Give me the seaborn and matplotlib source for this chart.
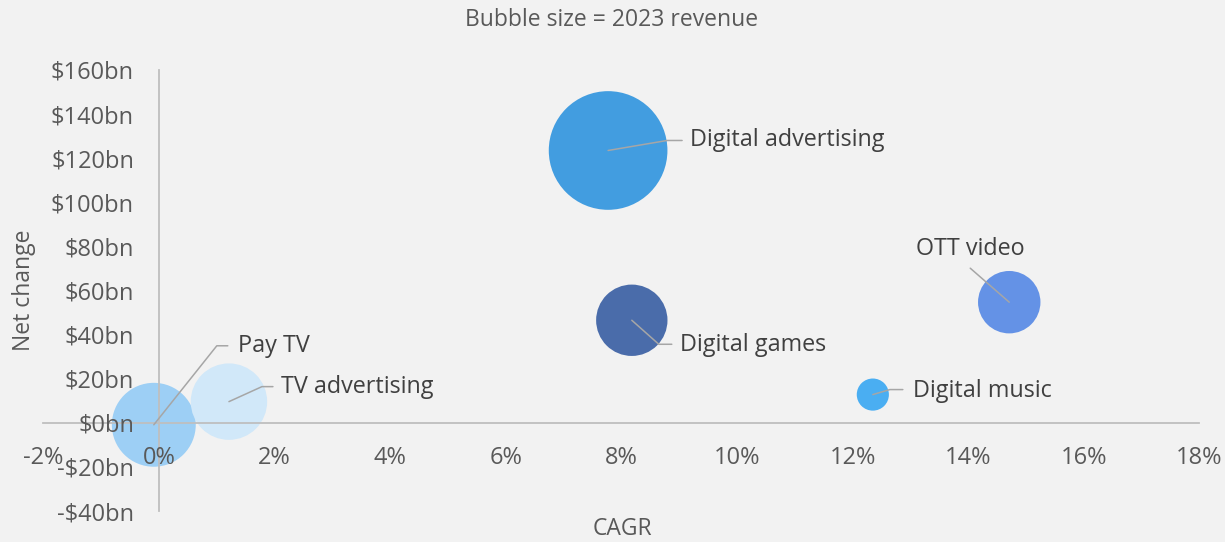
import numpy as np
import pandas as pd
import matplotlib.pyplot as plt
import seaborn as sns

# bubble chart: CAGR vs net change, bubble area = 2023 revenue
segments = ["Pay TV", "TV advertising", "Digital advertising",
            "Digital games", "OTT video", "Digital music"]
cagr = [-0.09, 1.21, 7.77, 8.18, 14.71, 12.35]          # %
net_change = [-0.9, 9.6, 123.5, 46.5, 54.7, 12.8]        # $bn
revenue = [300, 249, 600, 217, 166, 44]                  # $bn, 2023
colors = ["#9dcff5", "#d1e8f9", "#429de0", "#4a6caa", "#6492e6", "#4aaef2"]

x_ticks = [-2, 0, 2, 4, 6, 8, 10, 12, 14, 16, 18]
y_ticks = [-40, -20, 0, 20, 40, 60, 80, 100, 120, 140, 160]

df = pd.DataFrame({"segment": segments, "cagr": cagr,
                   "net": net_change, "revenue": revenue})

sns.set_theme(style="white", rc={"figure.facecolor": "#f2f2f2",
                                 "axes.facecolor": "#f2f2f2"})
plt.rcParams["font.family"] = ["Open Sans", "DejaVu Sans"]

fig = plt.figure(figsize=(12.25, 5.42), dpi=100)
W, H = 1225, 542
ax = fig.add_axes([43.4 / W, 31 / H, 1156 / W, 441 / H])

sns.scatterplot(data=df, x="cagr", y="net", hue="segment", palette=colors,
                size="revenue", sizes=(0, 7300), size_norm=(0, 600),
                linewidth=0, alpha=1, legend=False, ax=ax, zorder=1)

ax.set_axisbelow(False)  # tick labels and axis lines sit on top of bubbles
ax.set_xlim(-2, 18)
ax.set_ylim(-40, 160)
ax.set_xticks(x_ticks)
ax.set_xticklabels([f"{v}%" for v in x_ticks])
ax.set_yticks(y_ticks)
ax.set_yticklabels([f"${v}bn" if v >= 0 else f"-${-v}bn" for v in y_ticks])
ax.set_xlabel("")
ax.set_ylabel("")

for side in ["top", "right"]:
    ax.spines[side].set_visible(False)
ax.spines["left"].set_position(("data", 0))
ax.spines["bottom"].set_position(("data", 0))
for side in ["left", "bottom"]:
    ax.spines[side].set_color("#bfbfbf")
    ax.spines[side].set_linewidth(1.3)
    ax.spines[side].set_zorder(2.5)
ax.tick_params(axis="x", length=0, pad=17, labelsize=17, labelcolor="#595959")
ax.tick_params(axis="y", length=0, pad=18, labelsize=17, labelcolor="#595959")

# leader lines: pixel offsets from the bubble centre (elbow, end, text)
leaders = {
    "Pay TV": ([(63, 79), (74, 79)], (84, 79), "left"),
    "TV advertising": ([(33, 15), (44, 15)], (52, 15), "left"),
    "Digital advertising": ([(59, 10), (74, 10)], (82, 10), "left"),
    "Digital games": ([(27, -24), (40, -24)], (48, -25), "left"),
    "OTT video": ([(-39, 34)], (-39, 53), "center"),
    "Digital music": ([(17, 5), (30, 5)], (40, 4), "left"),
}
inv = ax.transData.inverted()
for seg, xv, yv in zip(segments, cagr, net_change):
    pts, txt, ha = leaders[seg]
    p = ax.transData.transform((xv, yv))
    path = np.array([p] + [p + np.array(o) for o in pts])
    dpath = inv.transform(path)
    ax.plot(dpath[:, 0], dpath[:, 1], color="#a6a6a6", lw=1.1, zorder=3)
    tx, ty = inv.transform(p + np.array(txt))
    ax.text(tx, ty, seg, ha=ha, va="center", fontsize=16.8, color="#404040",
            zorder=4)

fig.text(612 / W, 1 - 20 / H, "Bubble size = 2023 revenue", ha="center",
         va="center", fontsize=16.5, color="#595959")
fig.text(622 / W, 1 - 529 / H, "CAGR", ha="center", va="center",
         fontsize=16.5, color="#595959")
fig.text(24 / W, 1 - 290 / H, "Net change", ha="center", va="center",
         rotation=90, fontsize=16.5, color="#595959")

fig.savefig("out.png", dpi=100, facecolor=fig.get_facecolor())
